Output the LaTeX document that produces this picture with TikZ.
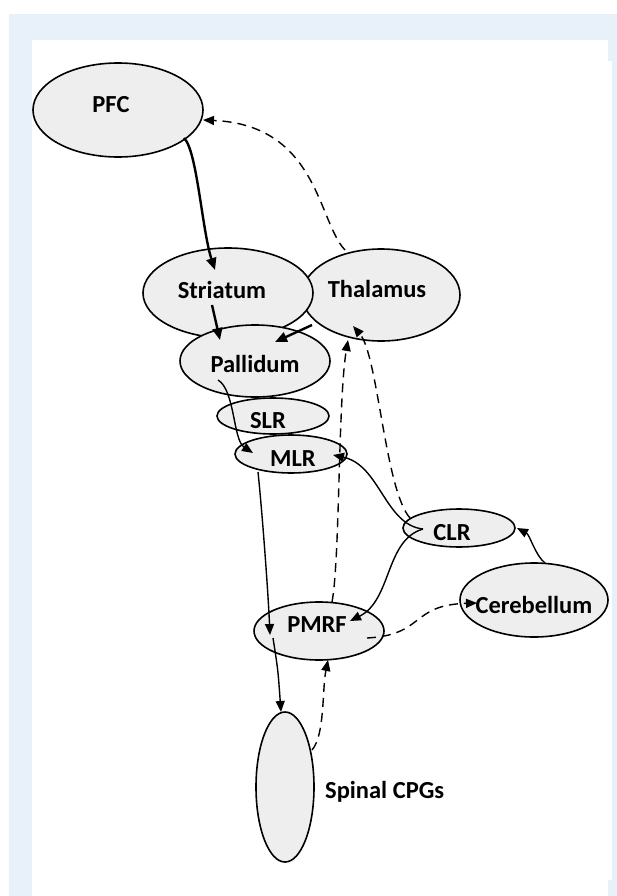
\documentclass[tikz,border=0pt]{standalone}
\usepackage{fontspec}
\setmainfont{Carlito}
\usetikzlibrary{shapes.geometric,arrows.meta}
\definecolor{regfill}{RGB}{238,238,238}
\definecolor{bgblue}{RGB}{232,241,249}
\begin{document}
\begin{tikzpicture}[x=1pt,y=-1pt,
  region/.style={ellipse, draw=black, line width=1.6pt, fill=regfill, inner sep=0pt},
  lbl/.style={font=\fontsize{24.5}{24.5}\selectfont\bfseries, anchor=base, inner sep=0pt},
  conn/.style={line width=1.4pt, -{Triangle[length=11pt,width=9pt]}},
  strong/.style={line width=2.4pt, -{Triangle[length=12pt,width=10pt]}},
  fb/.style={conn, dash pattern=on 9pt off 6pt}
]
% background panel
\useasboundingbox (0,0) rectangle (617,896);
\fill[white] (0,0) rectangle (617,896);
\fill[bgblue] (9,14) rectangle (617,896);
\fill[white] (32,40) rectangle (608,896);
\fill[white] (608,61) rectangle (612,880);

% regions
\node[region, minimum width=170pt, minimum height=94pt] (pfc) at (118,110) {};
\node[region, minimum width=158pt, minimum height=92pt] (thal) at (381,295) {};
\node[region, minimum width=170pt, minimum height=90pt] (str) at (228,293) {};
\node[region, minimum width=150pt, minimum height=72pt] (pal) at (255,361) {};
\node[region, minimum width=112pt, minimum height=36pt] (slr) at (273,416) {};
\node[region, minimum width=112pt, minimum height=38pt] (mlr) at (291,454) {};
\node[region, minimum width=112pt, minimum height=38pt] (clr) at (459,528) {};
\node[region, minimum width=148pt, minimum height=74pt] (cer) at (534,600) {};
\node[region, minimum width=130pt, minimum height=58pt] (pmrf) at (319,631) {};
\node[region, minimum width=58pt, minimum height=150pt] (cpg) at (285,787) {};

% labels
\node[lbl] (pfc-t) at (111,113) {PFC};
\node[lbl] (str-t) at (222,298) {Striatum};
\node[lbl] (thal-t) at (377,297) {Thalamus};
\node[lbl] (pal-t) at (255,372) {Pallidum};
\node[lbl] (slr-t) at (268,428) {SLR};
\node[lbl] (mlr-t) at (293,466) {MLR};
\node[lbl] (clr-t) at (452,540) {CLR};
\node[lbl] (cer-t) at (534,613) {Cerebellum};
\node[lbl] (pmrf-t) at (317,632) {PMRF};
\node[lbl, anchor=base west] (cpg-t) at (325,798) {Spinal CPGs};

% connector end points
\coordinate (pfcOut) at (184,138);
\coordinate (strIn) at (215,270);
\coordinate (thalTop) at (345,250);
\coordinate (pfcIn) at (203,120);
\coordinate (strOut) at (212,305);
\coordinate (palIn) at (220,340);
\coordinate (thalOut) at (312,325);
\coordinate (palIn2) at (275,342);
\coordinate (palOut) at (218,380);
\coordinate (mlrIn) at (253,453);
\coordinate (mlrOut) at (258,472);
\coordinate (pmrfIn) at (270,635);
\coordinate (pmrfOut) at (273,638);
\coordinate (cpgIn) at (281,712);
\coordinate (cpgOut) at (312,750);
\coordinate (pmrfBot) at (328,660);
\coordinate (pmrfTop) at (332,602);
\coordinate (thalIn) at (348,340);
\coordinate (clrTop) at (410,518);
\coordinate (thalIn2) at (353,326);
\coordinate (clrOut) at (423,529);
\coordinate (mlrIn2) at (333,455);
\coordinate (pmrfIn2) at (350,621);
\coordinate (cerTop) at (545,563);
\coordinate (clrIn) at (517,528);
\coordinate (pmrfOut2) at (367,638);
\coordinate (cerIn) at (477,603);

% connectors
\draw[strong] (pfcOut) .. controls (197,150) and (202,230) .. (strIn);
\draw[fb] (thalTop) .. controls (318,222) and (318,125) .. (pfcIn);
\draw[strong] (strOut) -- (palIn);
\draw[strong] (thalOut) -- (palIn2);
\draw[conn] (palOut) .. controls (235,390) and (233,440) .. (mlrIn);
\draw[conn] (mlrOut) .. controls (262,510) and (268,590) .. (pmrfIn);
\draw[conn] (pmrfOut) .. controls (278,670) .. (cpgIn);
\draw[fb] (cpgOut) .. controls (325,735) and (322,690) .. (pmrfBot);
\draw[fb] (pmrfTop) .. controls (340,560) and (338,400) .. (thalIn);
\draw[fb] (clrTop) .. controls (385,490) and (378,355) .. (thalIn2);
\draw[conn] (clrOut) .. controls (385,525) and (380,465) .. (mlrIn2);
\draw[conn] (clrOut) .. controls (385,540) and (392,600) .. (pmrfIn2);
\draw[conn] (cerTop) .. controls (535,555) and (530,535) .. (clrIn);
\draw[fb] (pmrfOut2) .. controls (425,635) and (410,605) .. (cerIn);
\end{tikzpicture}
\end{document}
